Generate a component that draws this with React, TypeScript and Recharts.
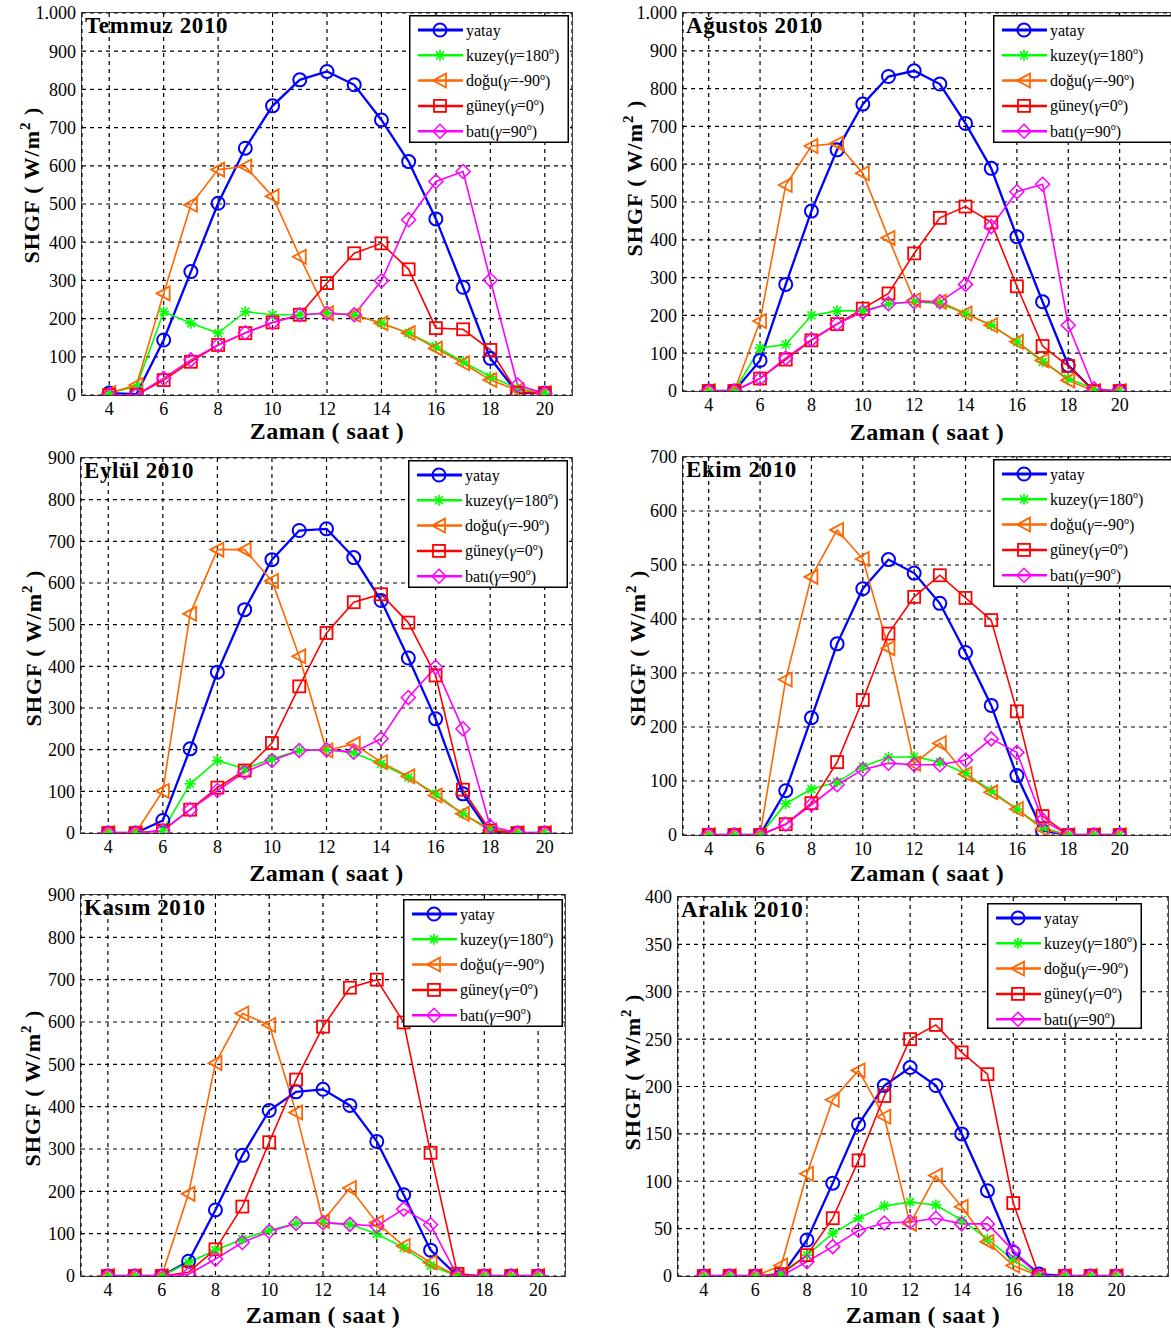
import React from 'react';
import { LineChart, Line, XAxis, YAxis, CartesianGrid } from 'recharts';

const hours = [4, 5, 6, 7, 8, 9, 10, 11, 12, 13, 14, 15, 16, 17, 18, 19, 20];
const xTicks = [4, 6, 8, 10, 12, 14, 16, 18, 20];

// Temmuz 2010
const temmuzYatay = [5, 2, 144, 323, 502, 646, 757, 825, 847, 812, 720, 611, 461, 282, 96, 5, 5];
const temmuzKuzey = [5, 22, 218, 188, 162, 218, 210, 210, 214, 210, 188, 162, 127, 87, 48, 17, 5];
const temmuzDogu = [5, 26, 266, 498, 590, 598, 520, 362, 214, 210, 188, 162, 122, 83, 39, 13, 5];
const temmuzGuney = [0, 0, 39, 87, 131, 162, 190, 210, 293, 371, 397, 329, 175, 172, 118, 6, 5];
const temmuzBati = [0, 0, 44, 92, 131, 163, 190, 210, 214, 210, 299, 459, 559, 585, 301, 26, 4];

// Ağustos 2010
const agustosYatay = [0, 0, 81, 282, 476, 638, 759, 832, 847, 812, 708, 589, 408, 236, 68, 0, 0];
const agustosKuzey = [0, 0, 114, 123, 200, 212, 212, 230, 236, 231, 205, 174, 130, 77, 33, 6, 0];
const agustosDogu = [0, 0, 185, 545, 648, 655, 576, 405, 240, 236, 205, 174, 130, 81, 28, 0, 0];
const agustosGuney = [0, 0, 33, 83, 134, 177, 218, 258, 364, 458, 488, 446, 277, 119, 66, 0, 0];
const agustosBati = [0, 0, 33, 87, 136, 178, 209, 231, 236, 236, 282, 435, 527, 547, 174, 6, 0];

// Eylül 2010
const eylulYatay = [0, 0, 30, 202, 386, 536, 656, 726, 730, 661, 558, 420, 274, 94, 0, 0, 0];
const eylulKuzey = [0, 0, 6, 118, 174, 154, 178, 198, 200, 192, 166, 134, 94, 46, 10, 0, 0];
const eylulDogu = [0, 0, 101, 526, 680, 680, 605, 424, 198, 214, 170, 136, 90, 46, 6, 0, 0];
const eylulGuney = [0, 0, 6, 56, 109, 150, 216, 352, 480, 554, 573, 505, 378, 104, 6, 0, 0];
const eylulBati = [0, 0, 6, 56, 102, 146, 174, 198, 200, 194, 226, 325, 398, 250, 16, 0, 0];

// Ekim 2010
const ekimYatay = [0, 0, 0, 82, 217, 354, 456, 510, 485, 429, 338, 240, 110, 8, 0, 0, 0];
const ekimKuzey = [0, 0, 0, 58, 85, 98, 127, 144, 145, 135, 114, 82, 48, 14, 0, 0, 0];
const ekimDogu = [0, 0, 0, 288, 478, 565, 511, 346, 132, 170, 113, 79, 48, 11, 0, 0, 0];
const ekimGuney = [0, 0, 0, 20, 59, 135, 250, 373, 441, 481, 439, 398, 229, 35, 0, 0, 0];
const ekimBati = [0, 0, 0, 20, 56, 93, 121, 133, 130, 130, 139, 178, 153, 28, 0, 0, 0];

// Kasım 2010
const kasimYatay = [0, 0, 0, 35, 156, 285, 391, 435, 441, 403, 318, 192, 61, 0, 0, 0, 0];
const kasimKuzey = [0, 0, 0, 32, 61, 87, 108, 124, 126, 122, 99, 67, 24, 0, 0, 0, 0];
const kasimDogu = [0, 0, 0, 194, 503, 620, 593, 386, 130, 208, 126, 71, 32, 0, 0, 0, 0];
const kasimGuney = [0, 0, 0, 9, 63, 164, 316, 464, 589, 681, 700, 599, 291, 5, 0, 0, 0];
const kasimBati = [0, 0, 0, 4, 40, 79, 105, 124, 126, 122, 118, 158, 121, 0, 0, 0, 0];

// Aralık 2010
const aralikYatay = [0, 0, 0, 0, 38, 98, 160, 201, 220, 201, 150, 90, 25, 2, 0, 0, 0];
const aralikKuzey = [0, 0, 0, 3, 22, 45, 61, 74, 78, 75, 59, 39, 17, 0, 0, 0, 0];
const aralikDogu = [0, 0, 0, 11, 108, 186, 217, 168, 55, 106, 73, 36, 11, 0, 0, 0, 0];
const aralikGuney = [0, 0, 0, 2, 22, 61, 122, 190, 250, 265, 236, 213, 77, 0, 0, 0, 0];
const aralikBati = [0, 0, 0, 0, 15, 31, 48, 56, 57, 61, 55, 55, 27, 0, 0, 0, 0];

const FONT = '"Liberation Serif", "Times New Roman", serif';

const SERIES = [
    { key: 'yatay', name: 'yatay', angle: '', color: '#0000ff', width: 2.3, shape: 'circle' },
    { key: 'kuzey', name: 'kuzey', angle: '180', color: '#00ff00', width: 1.6, shape: 'star' },
    { key: 'dogu', name: 'doğu', angle: '-90', color: '#ff6600', width: 1.6, shape: 'triangle' },
    { key: 'guney', name: 'güney', angle: '0', color: '#ff0000', width: 1.6, shape: 'square' },
    { key: 'bati', name: 'batı', angle: '90', color: '#ff00ff', width: 1.6, shape: 'diamond' },
];

function Marker({ shape, cx, cy, color }: { shape: string; cx: number; cy: number; color: string }) {
    if (cx == null || cy == null) return null;
    const sw = 1.8;
    if (shape === 'circle') return <circle cx={cx} cy={cy} r={6.5} fill="none" stroke={color} strokeWidth={2} />;
    if (shape === 'square') return <rect x={cx - 6} y={cy - 6} width={12} height={12} fill="none" stroke={color} strokeWidth={sw} />;
    if (shape === 'diamond')
        return <polygon points={`${cx},${cy - 7} ${cx + 7},${cy} ${cx},${cy + 7} ${cx - 7},${cy}`} fill="none" stroke={color} strokeWidth={1.5} />;
    if (shape === 'triangle')
        return <polygon points={`${cx - 7},${cy} ${cx + 6},${cy - 7} ${cx + 6},${cy + 7}`} fill="none" stroke={color} strokeWidth={sw} />;
    // asterisk
    const r = 5.5;
    const d = r * 0.72;
    return (
        <g stroke={color} strokeWidth={1.6}>
            <line x1={cx - r} y1={cy} x2={cx + r} y2={cy} />
            <line x1={cx} y1={cy - r} x2={cx} y2={cy + r} />
            <line x1={cx - d} y1={cy - d} x2={cx + d} y2={cy + d} />
            <line x1={cx - d} y1={cy + d} x2={cx + d} y2={cy - d} />
        </g>
    );
}

function LegendBox({ left, top, width, height }: { left: number; top: number; width: number; height: number }) {
    return (
        <svg width={width} height={height} style={{ position: 'absolute', left, top, overflow: 'visible' }}>
            <rect x={0.75} y={0.75} width={width - 1.5} height={height - 1.5} fill="#fff" stroke="#000" strokeWidth={1.5} />
            {SERIES.map((s, i) => {
                const y = 15 + i * 25.3;
                return (
                    <g key={s.key}>
                        <line x1={9} y1={y} x2={54} y2={y} stroke={s.color} strokeWidth={s.key === 'yatay' ? 3 : 2.5} />
                        <Marker shape={s.shape} cx={31} cy={y} color={s.color} />
                        <text x={57} y={y} dominantBaseline="central" fontFamily={FONT} fontSize={16} fill="#000">
                            {s.angle === '' ? (
                                s.name
                            ) : (
                                <>
                                    {s.name}(<tspan fontStyle="italic">γ</tspan>={s.angle}
                                    <tspan dy={-5} fontSize={10}>o</tspan>
                                    <tspan dy={5}>)</tspan>
                                </>
                            )}
                        </text>
                    </g>
                );
            })}
        </svg>
    );
}

interface PanelProps {
    title: string;
    plot: { left: number; top: number; right: number; bottom: number };
    xMax: number;
    yMax: number;
    yStep: number;
    series: number[][];
    legend: { left: number; top: number; width: number; height: number };
    yLabel: { x: number; y: number };
    xLabelY: number;
    cut?: boolean;
}

function Panel({ title, plot, xMax, yMax, yStep, series, legend, yLabel, xLabelY, cut }: PanelProps) {
    const yw = 70;
    const mt = 14;
    const xh = 30;
    const data = hours.map((h, i) => {
        const row: any = { h };
        SERIES.forEach((s, k) => (row[s.key] = series[k][i]));
        return row;
    });
    const yTicks: number[] = [];
    for (let v = 0; v <= yMax; v += yStep) yTicks.push(v);
    const tickStyle = { fontSize: 18, fill: '#000', fontFamily: FONT };
    const pw = plot.right - plot.left;
    const ph = plot.bottom - plot.top;
    return (
        <>
            <div
                style={{
                    position: 'absolute',
                    left: plot.left - 1,
                    top: plot.top - 1,
                    width: cut ? pw + 20 : pw + 2,
                    height: ph + 2,
                    border: '1.5px solid #444',
                    boxSizing: 'border-box',
                }}
            />
            <div style={{ position: 'absolute', left: plot.left - yw, top: plot.top - mt }}>
                <LineChart width={pw + yw} height={ph + mt + xh} data={data} margin={{ top: mt, right: 0, left: 0, bottom: 0 }}>
                    <CartesianGrid stroke="#000" strokeWidth={1.2} strokeDasharray="4 4" />
                    <XAxis
                        type="number"
                        dataKey="h"
                        domain={[3, xMax]}
                        ticks={xTicks}
                        interval={0}
                        allowDataOverflow
                        tickLine={false}
                        axisLine={false}
                        height={xh}
                        tick={tickStyle}
                        tickMargin={1}
                    />
                    <YAxis
                        type="number"
                        domain={[0, yMax]}
                        ticks={yTicks}
                        interval={0}
                        allowDataOverflow
                        tickLine={false}
                        axisLine={false}
                        width={yw}
                        tick={tickStyle}
                        tickMargin={0}
                        tickFormatter={(v: number) => (v === 1000 ? '1.000' : String(v))}
                    />
                    {SERIES.map((s) => (
                        <Line
                            key={s.key}
                            type="linear"
                            dataKey={s.key}
                            stroke={s.color}
                            strokeWidth={s.width}
                            isAnimationActive={false}
                            activeDot={false}
                            dot={(p: any) => <Marker key={`${s.key}-${p.index}`} shape={s.shape} cx={p.cx} cy={p.cy} color={s.color} />}
                        />
                    ))}
                </LineChart>
            </div>
            <div
                style={{
                    position: 'absolute',
                    left: plot.left + 3,
                    top: plot.top,
                    fontFamily: FONT,
                    fontWeight: 'bold',
                    fontSize: 23,
                    letterSpacing: 0.6,
                    whiteSpace: 'nowrap',
                }}
            >
                {title}
            </div>
            <LegendBox {...legend} />
            <div
                style={{
                    position: 'absolute',
                    left: yLabel.x,
                    top: yLabel.y,
                    transform: 'translate(-50%, -50%) rotate(-90deg)',
                    fontFamily: FONT,
                    fontWeight: 'bold',
                    fontSize: 22,
                    letterSpacing: 1,
                    whiteSpace: 'nowrap',
                }}
            >
                SHGF ( W/m<sup style={{ fontSize: 15 }}>2</sup> )
            </div>
            <div
                style={{
                    position: 'absolute',
                    left: (plot.left + plot.right) / 2,
                    top: xLabelY,
                    transform: 'translate(-50%, -50%)',
                    fontFamily: FONT,
                    fontWeight: 'bold',
                    fontSize: 24,
                    letterSpacing: 0.4,
                    whiteSpace: 'nowrap',
                }}
            >
                Zaman ( saat )
            </div>
        </>
    );
}

export default function App() {
    return (
        <div style={{ position: 'relative', width: 1171, height: 1331, overflow: 'hidden', background: '#fff' }}>
            <style>{'body{margin:0}'}</style>
            <Panel
                title="Temmuz 2010"
                plot={{ left: 82, top: 13, right: 572, bottom: 395 }}
                xMax={21}
                yMax={1000}
                yStep={100}
                series={[temmuzYatay, temmuzKuzey, temmuzDogu, temmuzGuney, temmuzBati]}
                legend={{ left: 409, top: 15, width: 160, height: 128 }}
                yLabel={{ x: 31, y: 185 }}
                xLabelY={431}
            />
            <Panel
                title="Ağustos 2010"
                plot={{ left: 683, top: 13, right: 1171, bottom: 391 }}
                xMax={22}
                yMax={1000}
                yStep={100}
                series={[agustosYatay, agustosKuzey, agustosDogu, agustosGuney, agustosBati]}
                legend={{ left: 993, top: 15, width: 185, height: 128 }}
                yLabel={{ x: 634, y: 178 }}
                xLabelY={432}
                cut
            />
            <Panel
                title="Eylül 2010"
                plot={{ left: 81, top: 458, right: 572, bottom: 833 }}
                xMax={21}
                yMax={900}
                yStep={100}
                series={[eylulYatay, eylulKuzey, eylulDogu, eylulGuney, eylulBati]}
                legend={{ left: 408, top: 460, width: 160, height: 128 }}
                yLabel={{ x: 33, y: 648 }}
                xLabelY={873}
            />
            <Panel
                title="Ekim 2010"
                plot={{ left: 683, top: 457, right: 1171, bottom: 835 }}
                xMax={22}
                yMax={700}
                yStep={100}
                series={[ekimYatay, ekimKuzey, ekimDogu, ekimGuney, ekimBati]}
                legend={{ left: 993, top: 459, width: 185, height: 128 }}
                yLabel={{ x: 637, y: 648 }}
                xLabelY={873}
                cut
            />
            <Panel
                title="Kasım 2010"
                plot={{ left: 81, top: 895, right: 565, bottom: 1276 }}
                xMax={21}
                yMax={900}
                yStep={100}
                series={[kasimYatay, kasimKuzey, kasimDogu, kasimGuney, kasimBati]}
                legend={{ left: 403, top: 899, width: 160, height: 128 }}
                yLabel={{ x: 32, y: 1088 }}
                xLabelY={1315}
            />
            <Panel
                title="Aralık 2010"
                plot={{ left: 678, top: 897, right: 1168, bottom: 1276 }}
                xMax={22}
                yMax={400}
                yStep={50}
                series={[aralikYatay, aralikKuzey, aralikDogu, aralikGuney, aralikBati]}
                legend={{ left: 987, top: 903, width: 155, height: 126 }}
                yLabel={{ x: 632, y: 1072 }}
                xLabelY={1315}
            />
        </div>
    );
}
